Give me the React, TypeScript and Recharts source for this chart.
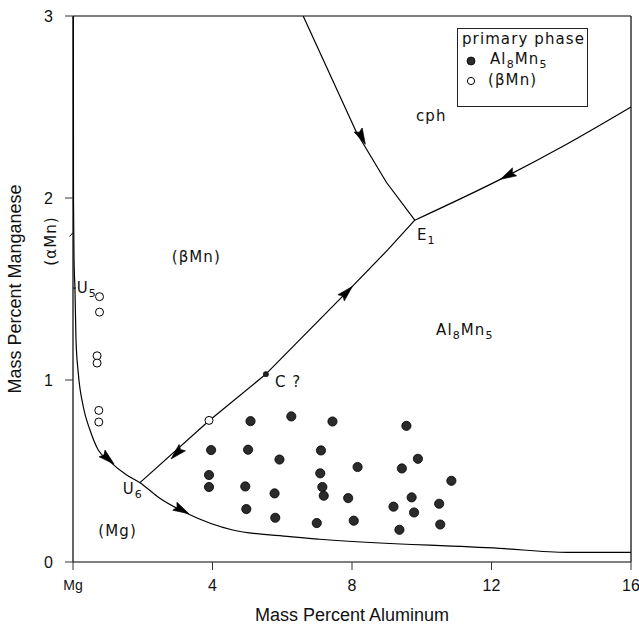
import React from 'react';
import { ComposedChart, Line, Scatter, XAxis, YAxis, ReferenceLine, ReferenceDot, Legend } from 'recharts';

// ---------- data ----------
const xTicks = [0, 4, 8, 12, 16];
const xTickLabels = ['Mg', '4', '8', '12', '16'];
const yTicks = [0, 1, 2, 3];
const yTickLabels = ['0', '1', '2', '3'];

// boundary (Mg) / (βMn)+Al8Mn5, through U5 and U6
const boundaryMg = [
  { x: 0.01, y: 3.0 }, { x: 0.014, y: 1.99 }, { x: 0.03, y: 1.66 }, { x: 0.057, y: 1.495 },
  { x: 0.086, y: 1.22 }, { x: 0.152, y: 1.037 }, { x: 0.295, y: 0.853 }, { x: 0.487, y: 0.725 },
  { x: 0.725, y: 0.615 }, { x: 1.01, y: 0.56 }, { x: 1.54, y: 0.478 }, { x: 1.92, y: 0.436 },
  { x: 2.49, y: 0.35 }, { x: 3.26, y: 0.268 }, { x: 4.58, y: 0.176 }, { x: 6.22, y: 0.139 },
  { x: 7.08, y: 0.125 }, { x: 12.23, y: 0.075 }, { x: 14.18, y: 0.053 }, { x: 16.0, y: 0.053 },
];
// U6 -> C -> E1
const boundaryU6E1 = [
  { x: 1.92, y: 0.436 }, { x: 3.9, y: 0.776 }, { x: 5.53, y: 1.032 }, { x: 7.99, y: 1.51 },
  { x: 9.03, y: 1.716 }, { x: 9.8, y: 1.878 },
];
// E1 -> right edge
const boundaryE1Right = [
  { x: 9.8, y: 1.878 }, { x: 12.28, y: 2.105 }, { x: 14.14, y: 2.294 }, { x: 16.0, y: 2.5 },
];
// top edge -> E1
const boundaryTopE1 = [
  { x: 6.6, y: 3.0 }, { x: 7.27, y: 2.72 }, { x: 8.13, y: 2.36 }, { x: 8.99, y: 2.085 }, { x: 9.8, y: 1.878 },
];

const al8mn5Samples = [
  { x: 5.09, y: 0.774 }, { x: 6.26, y: 0.8 }, { x: 7.44, y: 0.772 }, { x: 9.56, y: 0.748 },
  { x: 3.96, y: 0.615 }, { x: 5.02, y: 0.617 }, { x: 5.92, y: 0.563 }, { x: 7.11, y: 0.613 },
  { x: 8.16, y: 0.522 }, { x: 9.43, y: 0.514 }, { x: 9.89, y: 0.567 }, { x: 3.9, y: 0.478 },
  { x: 7.09, y: 0.487 }, { x: 10.85, y: 0.446 }, { x: 3.9, y: 0.412 }, { x: 4.94, y: 0.415 },
  { x: 5.78, y: 0.377 }, { x: 7.15, y: 0.412 }, { x: 7.19, y: 0.364 }, { x: 7.89, y: 0.351 },
  { x: 9.71, y: 0.355 }, { x: 9.19, y: 0.304 }, { x: 10.5, y: 0.32 }, { x: 9.78, y: 0.272 },
  { x: 4.97, y: 0.291 }, { x: 5.8, y: 0.243 }, { x: 6.99, y: 0.214 }, { x: 8.05, y: 0.227 },
  { x: 9.36, y: 0.177 }, { x: 10.53, y: 0.206 },
];
const betaMnSamples = [
  { x: 0.76, y: 1.458 }, { x: 0.76, y: 1.373 }, { x: 0.69, y: 1.133 }, { x: 0.69, y: 1.093 },
  { x: 0.74, y: 0.833 }, { x: 0.74, y: 0.769 }, { x: 3.9, y: 0.778 },
];
const pointC = [{ x: 5.53, y: 1.032 }];

// arrowheads: tip (x, y) and a point behind it on the same curve (fromX, fromY)
const arrowHeads = [
  { x: 1.155, y: 0.542, fromX: 0.725, fromY: 0.615 },
  { x: 3.3, y: 0.268, fromX: 2.49, fromY: 0.35 },
  { x: 2.83, y: 0.57, fromX: 3.9, fromY: 0.776 },
  { x: 7.99, y: 1.51, fromX: 5.53, fromY: 1.032 },
  { x: 8.37, y: 2.3, fromX: 7.27, fromY: 2.72 },
  { x: 12.28, y: 2.105, fromX: 14.14, fromY: 2.294 },
];

// region / point labels: [text, isSubscript]
const regionLabels = [
  { x: 9.835, y: 2.451, parts: [['cph', 0]] },
  { x: 9.864, y: 1.797, parts: [['E', 0], ['1', 1]] },
  { x: 2.83, y: 1.677, parts: [['(βMn)', 0]] },
  { x: 10.41, y: 1.275, parts: [['Al', 0], ['8', 1], ['Mn', 0], ['5', 1]] },
  { x: 5.79, y: 0.991, parts: [['C ?', 0]] },
  { x: 0.106, y: 1.504, parts: [['U', 0], ['5', 1]] },
  { x: 1.425, y: 0.4, parts: [['U', 0], ['6', 1]] },
  { x: 0.725, y: 0.172, parts: [['(Mg)', 0]] },
];
const sideLabel = { x: 0, y: 1.764, text: '(αMn)' };

// ---------- layout ----------
const W = 639;
const H = 628;
const PLOT_L = 73, PLOT_R = 631, PLOT_T = 16, PLOT_B = 562;
const PX_X = (PLOT_R - PLOT_L) / 16;
const PX_Y = (PLOT_B - PLOT_T) / 3;
const LBL_FONT = '"DejaVu Sans", sans-serif';
const AX_FONT = '"Liberation Sans", Arial, sans-serif';

const ArrowShape = (props: any) => {
  const { cx, cy, payload } = props;
  if (cx == null || cy == null) return null;
  const ang = (Math.atan2(-(payload.y - payload.fromY) * PX_Y, (payload.x - payload.fromX) * PX_X) * 180) / Math.PI;
  return (
    <polygon
      points="1,0 -15,-4.5 -12.5,0 -15,4.5"
      transform={`translate(${cx},${cy}) rotate(${ang})`}
      fill="#000"
      stroke="#000"
      strokeWidth={0.6}
    />
  );
};

const renderParts = (parts: any[]) => {
  let shift = 0;
  return parts.map((p: any, i: number) => {
    const target = p[1] ? 5 : 0;
    const dy = target - shift;
    shift = target;
    return (
      <tspan key={i} dy={dy} fontSize={p[1] ? 11 : 15}>
        {p[0]}
      </tspan>
    );
  });
};

const LabelShape = (props: any) => {
  const { cx, cy, payload } = props;
  if (cx == null || cy == null) return null;
  return (
    <text x={cx} y={cy} dominantBaseline="central" fontFamily={LBL_FONT} fontSize={15} letterSpacing={1.1} fill="#111">
      {renderParts(payload.parts)}
    </text>
  );
};

const FilledDot = (props: any) => {
  const { cx, cy } = props;
  if (cx == null || cy == null) return null;
  return <circle cx={cx} cy={cy} r={4.6} fill="#2b2b2b" stroke="#000" strokeWidth={0.8} />;
};
const OpenDot = (props: any) => {
  const { cx, cy } = props;
  if (cx == null || cy == null) return null;
  return <circle cx={cx} cy={cy} r={4} fill="#fff" stroke="#000" strokeWidth={1} />;
};
const SmallDot = (props: any) => {
  const { cx, cy } = props;
  if (cx == null || cy == null) return null;
  return <circle cx={cx} cy={cy} r={2.6} fill="#222" stroke="#000" strokeWidth={0.6} />;
};

const BottomTick = (props: any) => {
  const { x, y, payload } = props;
  const i = xTicks.indexOf(payload.value);
  const label = xTickLabels[i] ?? String(payload.value);
  const small = label === 'Mg';
  return (
    <text x={x} y={y + 13} textAnchor="middle" dominantBaseline="central" fontFamily={AX_FONT} fontSize={small ? 14 : 16} fill="#111">
      {label}
    </text>
  );
};
const LeftTick = (props: any) => {
  const { x, y, payload } = props;
  const i = yTicks.indexOf(payload.value);
  const label = yTickLabels[i] ?? String(payload.value);
  return (
    <text x={x - 10} y={y} textAnchor="end" dominantBaseline="central" fontFamily={AX_FONT} fontSize={16} fill="#111">
      {label}
    </text>
  );
};

const XTitle = (props: any) => {
  const { viewBox } = props;
  return (
    <text x={viewBox.x + viewBox.width / 2} y={615} textAnchor="middle" dominantBaseline="central" fontFamily={AX_FONT} fontSize={18} fill="#111">
      Mass Percent Aluminum
    </text>
  );
};
const YTitle = (props: any) => {
  const { viewBox } = props;
  const cy = viewBox.y + viewBox.height / 2;
  return (
    <text x={15} y={cy} transform={`rotate(-90, 15, ${cy})`} textAnchor="middle" dominantBaseline="central" fontFamily={AX_FONT} fontSize={18} fill="#111">
      Mass Percent Manganese
    </text>
  );
};

const SideLabel = (props: any) => {
  const { viewBox } = props;
  const cx = viewBox.x - 22;
  const cy = viewBox.y;
  return (
    <text x={cx} y={cy} transform={`rotate(-90, ${cx}, ${cy})`} textAnchor="middle" dominantBaseline="central" fontFamily={LBL_FONT} fontSize={15} letterSpacing={1.1} fill="#111">
      {sideLabel.text}
    </text>
  );
};

const LegendBox = () => (
  <div
    style={{
      position: 'relative',
      width: 131,
      height: 79,
      boxSizing: 'border-box',
      border: '1px solid #222',
      background: '#fff',
      fontFamily: LBL_FONT,
      fontSize: 15,
      letterSpacing: 1.1,
      color: '#111',
      lineHeight: 1,
    }}
  >
    <div style={{ position: 'absolute', left: 4, top: 3 }}>primary phase</div>
    <svg style={{ position: 'absolute', left: 7, top: 26 }} width={12} height={12}>
      <circle cx={6} cy={6} r={4} fill="#2b2b2b" stroke="#000" strokeWidth={0.8} />
    </svg>
    <div style={{ position: 'absolute', left: 32, top: 23 }}>
      Al<span style={{ fontSize: 11, position: 'relative', top: 4 }}>8</span>Mn
      <span style={{ fontSize: 11, position: 'relative', top: 4 }}>5</span>
    </div>
    <svg style={{ position: 'absolute', left: 7, top: 46 }} width={12} height={12}>
      <circle cx={6} cy={6} r={3.6} fill="#fff" stroke="#000" strokeWidth={1} />
    </svg>
    <div style={{ position: 'absolute', left: 30, top: 44 }}>(βMn)</div>
  </div>
);

export default function App() {
  return (
    <div style={{ position: 'absolute', left: 0, top: 0, width: W, height: H, background: '#fff' }}>
      <ComposedChart width={W} height={H} margin={{ top: 8, right: 0, bottom: 10, left: 13 }}>
        <XAxis
          xAxisId={0}
          dataKey="x"
          type="number"
          domain={[0, 16]}
          ticks={xTicks}
          orientation="bottom"
          height={56}
          tickSize={8}
          tickLine={{ stroke: '#333' }}
          axisLine={{ stroke: '#000', strokeWidth: 1.2 }}
          tick={<BottomTick />}
          interval={0}
          label={<XTitle />}
        />
        <XAxis
          xAxisId="top"
          dataKey="x"
          type="number"
          domain={[0, 16]}
          ticks={xTicks}
          orientation="top"
          height={8}
          tickSize={8}
          tick={false}
          tickLine={{ stroke: '#333' }}
          axisLine={{ stroke: '#000', strokeWidth: 1.2 }}
        />
        <YAxis
          yAxisId={0}
          dataKey="y"
          type="number"
          domain={[0, 3]}
          ticks={yTicks}
          width={60}
          tickSize={8}
          tickLine={{ stroke: '#333' }}
          axisLine={{ stroke: '#000', strokeWidth: 1.2 }}
          tick={<LeftTick />}
          interval={0}
          label={<YTitle />}
        />
        <YAxis
          yAxisId="right"
          dataKey="y"
          type="number"
          domain={[0, 3]}
          ticks={yTicks}
          orientation="right"
          width={8}
          tickSize={8}
          tick={false}
          tickLine={{ stroke: '#333' }}
          axisLine={{ stroke: '#000', strokeWidth: 1.2 }}
        />

        <Line data={boundaryMg} dataKey="y" type="monotoneX" stroke="#000" strokeWidth={1.2} dot={false} isAnimationActive={false} legendType="none" />
        <Line data={boundaryU6E1} dataKey="y" type="linear" stroke="#000" strokeWidth={1.2} dot={false} isAnimationActive={false} legendType="none" />
        <Line data={boundaryE1Right} dataKey="y" type="monotoneX" stroke="#000" strokeWidth={1.2} dot={false} isAnimationActive={false} legendType="none" />
        <Line data={boundaryTopE1} dataKey="y" type="linear" stroke="#000" strokeWidth={1.2} dot={false} isAnimationActive={false} legendType="none" />

        <Scatter data={al8mn5Samples} dataKey="y" shape={<FilledDot />} isAnimationActive={false} legendType="none" />
        <Scatter data={betaMnSamples} dataKey="y" shape={<OpenDot />} isAnimationActive={false} legendType="none" />
        <Scatter data={pointC} dataKey="y" shape={<SmallDot />} isAnimationActive={false} legendType="none" />
        <Scatter data={arrowHeads} dataKey="y" shape={<ArrowShape />} isAnimationActive={false} legendType="none" />
        <Scatter data={regionLabels} dataKey="y" shape={<LabelShape />} isAnimationActive={false} legendType="none" />

        <ReferenceLine segment={[{ x: 0, y: 1.505 }, { x: 0.08, y: 1.505 }]} stroke="#000" strokeWidth={1} ifOverflow="visible" />
        <ReferenceLine segment={[{ x: 0, y: 1.81 }, { x: -0.1, y: 1.788 }]} stroke="#000" strokeWidth={1} ifOverflow="visible" />
        <ReferenceDot x={sideLabel.x} y={sideLabel.y} r={0} fill="none" stroke="none" ifOverflow="visible" label={<SideLabel />} />

        <Legend
          layout="horizontal"
          verticalAlign="middle"
          align="center"
          content={<LegendBox />}
          wrapperStyle={{ position: 'absolute', left: 457, top: 28, width: 131, height: 79, margin: 0, padding: 0 }}
        />
      </ComposedChart>
    </div>
  );
}
